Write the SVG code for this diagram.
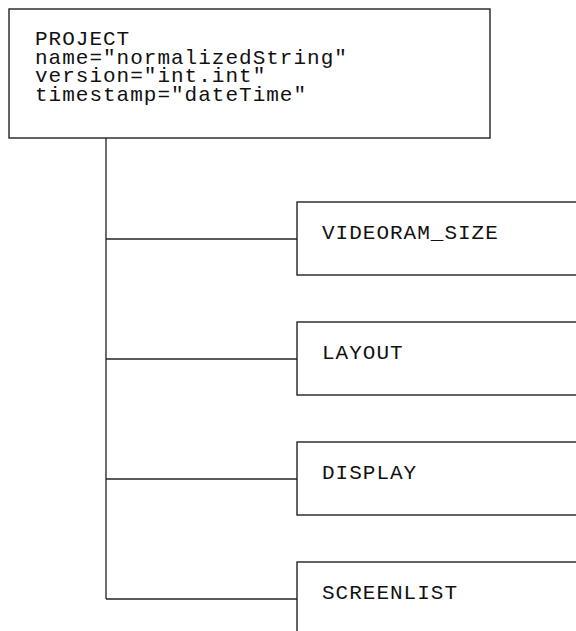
<svg xmlns="http://www.w3.org/2000/svg" width="576" height="631" viewBox="0 0 576 631">
<style>
.box{fill:#fff;stroke:#222;stroke-width:1.4}
.ln{fill:none;stroke:#222;stroke-width:1.3}
.t{font-family:"Liberation Mono","DejaVu Sans Mono",monospace;font-size:21px;letter-spacing:1px;fill:#111}
</style>
<rect width="576" height="631" fill="#fff"/>
<g id="connectors">
<path class="ln" d="M106 138V599"/>
<path class="ln" d="M106 239H297"/>
<path class="ln" d="M106 359H297"/>
<path class="ln" d="M106 479H297"/>
<path class="ln" d="M106 599H297"/>
</g>
<g id="project">
<rect class="box" x="9" y="9" width="481" height="129"/>
<text class="t" x="35" y="45">PROJECT</text>
<text class="t" x="35" y="63.5">name="normalizedString"</text>
<text class="t" x="35" y="82">version="int.int"</text>
<text class="t" x="35" y="100.5">timestamp="dateTime"</text>
</g>
<g id="videoram_size">
<rect class="box" x="297" y="202" width="300" height="73"/>
<text class="t" x="322" y="239">VIDEORAM_SIZE</text>
</g>
<g id="layout">
<rect class="box" x="297" y="322" width="300" height="73"/>
<text class="t" x="322" y="359">LAYOUT</text>
</g>
<g id="display">
<rect class="box" x="297" y="442" width="300" height="73"/>
<text class="t" x="322" y="479">DISPLAY</text>
</g>
<g id="screenlist">
<rect class="box" x="297" y="562" width="300" height="73"/>
<text class="t" x="322" y="599">SCREENLIST</text>
</g>
</svg>
